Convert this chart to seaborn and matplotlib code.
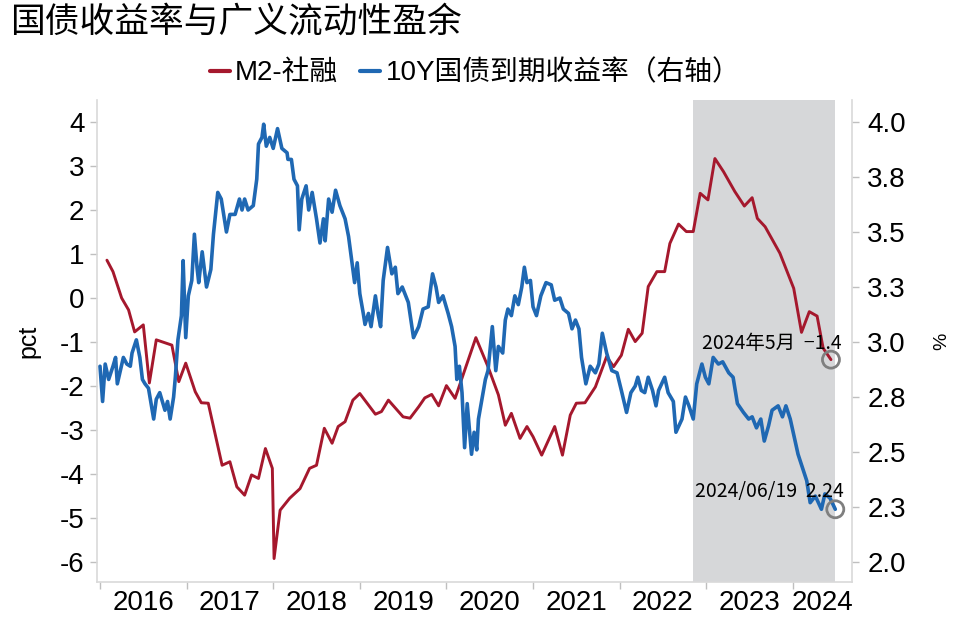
import numpy as np
import pandas as pd
import matplotlib
matplotlib.use('Agg')
import matplotlib.pyplot as plt
import seaborn as sns

# M2-社融 (pct), monthly, x as decimal year
m2_year = [2016.08, 2016.15, 2016.25, 2016.33, 2016.40, 2016.50, 2016.57, 2016.65, 2016.83, 2016.91,
           2016.99, 2017.10, 2017.17, 2017.25, 2017.41, 2017.50, 2017.58, 2017.67, 2017.75, 2017.83,
           2017.91, 2017.99, 2018.01, 2018.08, 2018.19, 2018.31, 2018.42, 2018.50, 2018.59, 2018.68,
           2018.75, 2018.83, 2018.92, 2019.00, 2019.18, 2019.25, 2019.33, 2019.50, 2019.58, 2019.68,
           2019.75, 2019.83, 2019.91, 2020.00, 2020.10, 2020.34, 2020.48, 2020.60, 2020.68, 2020.75,
           2020.85, 2020.93, 2021.00, 2021.10, 2021.25, 2021.34, 2021.43, 2021.50, 2021.60, 2021.72,
           2021.85, 2021.93, 2022.02, 2022.10, 2022.18, 2022.26, 2022.33, 2022.43, 2022.52, 2022.58,
           2022.68, 2022.77, 2022.85, 2022.93, 2023.02, 2023.10, 2023.20, 2023.33, 2023.44, 2023.53,
           2023.59, 2023.68, 2023.85, 2024.01, 2024.10, 2024.19, 2024.28, 2024.35, 2024.44]
m2_gap = [0.86, 0.60, 0.00, -0.27, -0.77, -0.61, -1.93, -0.95, -1.07, -1.90,
          -1.48, -2.13, -2.38, -2.39, -3.80, -3.72, -4.29, -4.48, -4.02, -4.10,
          -3.42, -3.87, -5.92, -4.82, -4.55, -4.33, -3.87, -3.80, -2.96, -3.30,
          -2.92, -2.81, -2.32, -2.17, -2.64, -2.58, -2.32, -2.70, -2.73, -2.47,
          -2.27, -2.19, -2.45, -1.99, -2.28, -0.90, -1.56, -2.20, -2.89, -2.62,
          -3.19, -2.92, -3.15, -3.57, -2.92, -3.57, -2.66, -2.39, -2.38, -2.02,
          -1.33, -1.56, -1.30, -0.71, -0.99, -0.80, 0.26, 0.60, 0.60, 1.24,
          1.68, 1.51, 1.51, 2.38, 2.23, 3.17, 2.87, 2.42, 2.09, 2.28,
          1.81, 1.62, 1.02, 0.22, -0.78, -0.31, -0.41, -1.14, -1.40]

# 10Y国债到期收益率 (%)
bond_year = [2016.00, 2016.03, 2016.06, 2016.10, 2016.15, 2016.18, 2016.20, 2016.27, 2016.31, 2016.35,
             2016.37, 2016.42, 2016.46, 2016.49, 2016.52, 2016.56, 2016.62, 2016.65, 2016.69, 2016.75,
             2016.78, 2016.81, 2016.85, 2016.87, 2016.90, 2016.94, 2016.96, 2016.99, 2017.02, 2017.06,
             2017.09, 2017.12, 2017.14, 2017.18, 2017.23, 2017.28, 2017.31, 2017.36, 2017.40, 2017.42,
             2017.46, 2017.50, 2017.56, 2017.61, 2017.64, 2017.67, 2017.71, 2017.77, 2017.81, 2017.83,
             2017.87, 2017.89, 2017.92, 2017.96, 2018.00, 2018.05, 2018.10, 2018.16, 2018.17, 2018.21,
             2018.24, 2018.28, 2018.30, 2018.33, 2018.38, 2018.41, 2018.45, 2018.50, 2018.54, 2018.58,
             2018.60, 2018.64, 2018.68, 2018.72, 2018.77, 2018.83, 2018.87, 2018.91, 2018.94, 2018.97,
             2019.00, 2019.04, 2019.06, 2019.10, 2019.13, 2019.18, 2019.21, 2019.24, 2019.27, 2019.32,
             2019.37, 2019.41, 2019.44, 2019.49, 2019.56, 2019.62, 2019.68, 2019.73, 2019.79, 2019.84,
             2019.88, 2019.91, 2019.96, 2020.02, 2020.06, 2020.10, 2020.12, 2020.15, 2020.18, 2020.21,
             2020.24, 2020.29, 2020.32, 2020.35, 2020.37, 2020.41, 2020.45, 2020.48, 2020.53, 2020.57,
             2020.60, 2020.65, 2020.68, 2020.71, 2020.75, 2020.79, 2020.83, 2020.87, 2020.90, 2020.93,
             2020.97, 2021.00, 2021.04, 2021.09, 2021.15, 2021.21, 2021.25, 2021.31, 2021.35, 2021.41,
             2021.45, 2021.49, 2021.53, 2021.56, 2021.61, 2021.66, 2021.72, 2021.76, 2021.80, 2021.85,
             2021.91, 2021.97, 2022.02, 2022.08, 2022.13, 2022.18, 2022.21, 2022.25, 2022.29, 2022.33,
             2022.38, 2022.42, 2022.45, 2022.52, 2022.56, 2022.62, 2022.65, 2022.72, 2022.76, 2022.80,
             2022.85, 2022.89, 2022.95, 2022.99, 2023.03, 2023.08, 2023.14, 2023.19, 2023.26, 2023.31,
             2023.36, 2023.43, 2023.49, 2023.53, 2023.58, 2023.63, 2023.67, 2023.72, 2023.76, 2023.83,
             2023.88, 2023.92, 2023.97, 2024.02, 2024.06, 2024.11, 2024.16, 2024.20, 2024.26, 2024.33,
             2024.37, 2024.43, 2024.49]
bond_yield = [2.89, 2.73, 2.90, 2.83, 2.89, 2.93, 2.81, 2.93, 2.90, 2.89,
              2.95, 3.01, 2.93, 2.83, 2.81, 2.79, 2.65, 2.74, 2.77, 2.69,
              2.73, 2.65, 2.75, 2.84, 3.01, 3.12, 3.37, 3.02, 3.21, 3.28,
              3.49, 3.34, 3.27, 3.41, 3.25, 3.33, 3.49, 3.68, 3.65, 3.60,
              3.50, 3.58, 3.58, 3.65, 3.60, 3.65, 3.60, 3.62, 3.74, 3.90,
              3.93, 3.99, 3.89, 3.93, 3.88, 3.97, 3.88, 3.86, 3.83, 3.83,
              3.74, 3.71, 3.51, 3.65, 3.71, 3.60, 3.68, 3.56, 3.45, 3.56,
              3.46, 3.65, 3.59, 3.69, 3.62, 3.56, 3.48, 3.36, 3.27, 3.36,
              3.22, 3.13, 3.08, 3.13, 3.07, 3.21, 3.13, 3.07, 3.28, 3.43,
              3.31, 3.34, 3.22, 3.25, 3.18, 3.02, 3.07, 3.15, 3.16, 3.31,
              3.25, 3.18, 3.21, 3.13, 3.07, 2.98, 2.83, 2.89, 2.77, 2.52,
              2.72, 2.49, 2.59, 2.51, 2.65, 2.74, 2.83, 2.87, 3.07, 2.87,
              2.98, 2.95, 3.10, 3.15, 3.12, 3.21, 3.17, 3.25, 3.34, 3.27,
              3.28, 3.16, 3.12, 3.21, 3.27, 3.26, 3.19, 3.20, 3.15, 3.13,
              3.06, 3.10, 3.06, 2.93, 2.81, 2.89, 2.86, 2.90, 3.04, 2.95,
              2.87, 2.86, 2.78, 2.68, 2.77, 2.80, 2.84, 2.78, 2.77, 2.84,
              2.78, 2.71, 2.78, 2.84, 2.77, 2.73, 2.59, 2.65, 2.75, 2.71,
              2.65, 2.81, 2.90, 2.84, 2.81, 2.93, 2.90, 2.91, 2.86, 2.84,
              2.72, 2.68, 2.65, 2.66, 2.61, 2.65, 2.55, 2.62, 2.69, 2.71,
              2.66, 2.71, 2.65, 2.56, 2.49, 2.43, 2.37, 2.27, 2.30, 2.24,
              2.31, 2.29, 2.24]

years = list(range(2016, 2025))
left_ticks = list(range(-6, 5))
right_ticks = [2.0, 2.25, 2.5, 2.75, 3.0, 3.25, 3.5, 3.75, 4.0]
right_labels = ['2.0', '2.3', '2.5', '2.8', '3.0', '3.3', '3.5', '3.8', '4.0']
shade_start, shade_end = 2022.85, 2024.49

sns.set_theme(style='white')
plt.rcParams['font.family'] = ['Liberation Sans', 'Noto Sans CJK SC', 'DejaVu Sans']
plt.rcParams['axes.unicode_minus'] = False
plt.rcParams['text.color'] = 'black'
plt.rcParams['axes.labelcolor'] = 'black'

red = '#A5182D'
blue = '#1F68B3'
spine_c = '#D9D9D9'
cjk = ['Noto Sans CJK SC', 'DejaVu Sans']

m2_df = pd.DataFrame({'date': m2_year, 'value': m2_gap})
bond_df = pd.DataFrame({'date': bond_year, 'value': bond_yield})

fig = plt.figure(figsize=(9.6, 6.25), dpi=100)
ax = fig.add_axes([0.101, 0.069, 0.7865, 0.771])
ax2 = ax.twinx()

xmin, xmax = 2015.965, 2024.683
ax.axvspan(shade_start, shade_end, color='#D6D7D9', lw=0, zorder=0)
sns.lineplot(data=m2_df, x='date', y='value', ax=ax, color=red, lw=2.1, label='M2-社融', legend=False)
sns.lineplot(data=bond_df, x='date', y='value', ax=ax2, color=blue, lw=2.6,
             label='10Y国债到期收益率（右轴）', legend=False)

# end-point markers and notes
ax.scatter([m2_year[-1]], [m2_gap[-1]], s=150, facecolors='none', edgecolors='#7F7F7F', linewidths=2, zorder=5)
ax2.scatter([bond_year[-1]], [bond_yield[-1]], s=150, facecolors='none', edgecolors='#7F7F7F', linewidths=2, zorder=5)
ax.annotate('2024年5月  ' + f'{m2_gap[-1]:.1f}'.replace('-', '−'), xy=(m2_year[-1], m2_gap[-1]),
            xytext=(8, 11.5), textcoords='offset points', ha='right', va='center', fontsize=14, family=cjk)
ax2.annotate(f'2024/06/19  {bond_yield[-1]:.2f}', xy=(bond_year[-1], bond_yield[-1]),
             xytext=(6, 12.5), textcoords='offset points', ha='right', va='center', fontsize=14, family=cjk)

# x axis: ticks at year boundaries, labels centred in each year
ax.set_xlim(xmin, xmax)
ax.set_xticks(years, labels=[''] * len(years))
mids = [(a + b) / 2 for a, b in zip(years, years[1:] + [xmax])]
ax.set_xticks(mids, labels=[str(y) for y in years], minor=True)
ax.tick_params(axis='x', which='minor', length=0, labelsize=20, pad=6, labelcolor='black')
ax.tick_params(axis='x', which='major', bottom=True, length=5, width=1, color='#BFBFBF', direction='out')
ax.set_xlabel('')

ax.set_ylim(-6.45, 4.5)
ax.set_yticks(left_ticks)
ax.tick_params(axis='y', left=True, length=5, width=1, color='#BFBFBF', labelsize=20, pad=4, labelcolor='black')
ax.set_ylabel('pct', fontsize=18, labelpad=14)

ax2.set_ylim(1.91, 4.1)
ax2.set_yticks(right_ticks, labels=right_labels)
ax2.tick_params(axis='y', right=True, length=5, width=1, color='#BFBFBF', labelsize=20, pad=6, labelcolor='black')
ax2.set_ylabel('%', fontsize=14, labelpad=20)

for a in (ax, ax2):
    for s in a.spines.values():
        s.set_visible(False)
ax.spines['left'].set_visible(True)
ax.spines['bottom'].set_visible(True)
ax2.spines['right'].set_visible(True)
for s in (ax.spines['left'], ax.spines['bottom'], ax2.spines['right']):
    s.set_color(spine_c)
    s.set_linewidth(1.2)

h1, l1 = ax.get_legend_handles_labels()
h2, l2 = ax2.get_legend_handles_labels()
leg = fig.legend(h1 + h2, l1 + l2, loc='center', bbox_to_anchor=(0.495, 0.883), ncol=2, frameon=False,
                 fontsize=20, handlelength=0.7, handletextpad=0.2, columnspacing=0.8)
for line in leg.get_lines():
    line.set_linewidth(3)

fig.text(0.01, 0.965, '国债收益率与广义流动性盈余', fontsize=25, family=cjk, ha='left', va='center')

fig.savefig('out.png', dpi=100)
